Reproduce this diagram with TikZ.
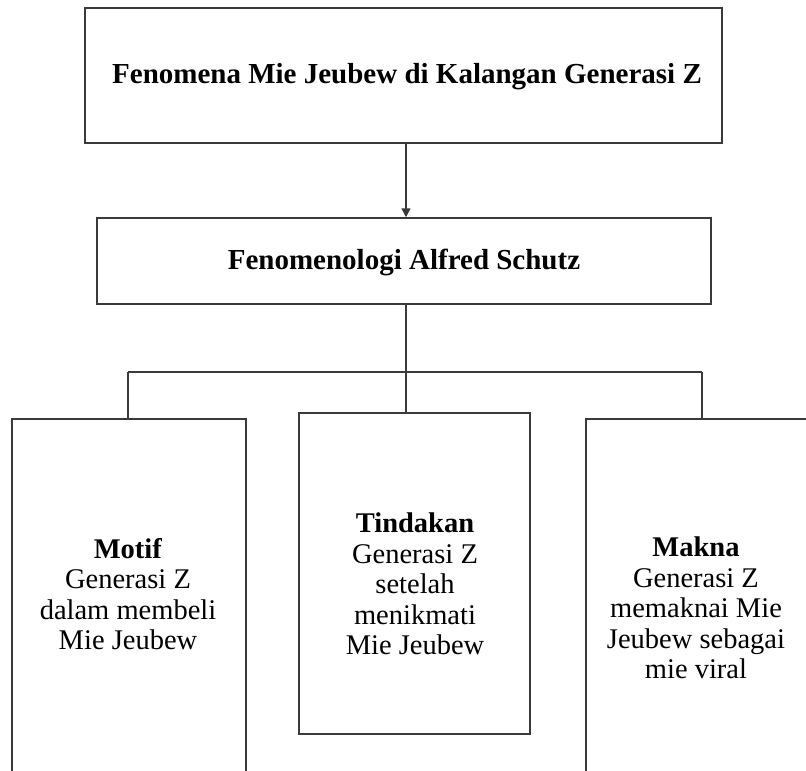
\documentclass[tikz,border=0pt]{standalone}
\usepackage{fontspec}
\setmainfont{Liberation Serif}
\usetikzlibrary{arrows.meta}
\definecolor{linegray}{HTML}{3A3A3A}
\tikzset{
  boxshape/.style={draw=linegray, line width=1.5pt, inner sep=0pt},
  titletext/.style={font=\fontsize{29}{31}\selectfont\bfseries, align=center, inner sep=0pt},
  bodytext/.style={font=\fontsize{28.5}{30.5}\selectfont, align=center, inner sep=0pt},
  conn/.style={draw=linegray, line width=1.5pt},
  arrowconn/.style={conn, -{Triangle[length=9pt,width=9pt]}}
}
\begin{document}
\begin{tikzpicture}[x=1pt,y=-1pt]
\useasboundingbox (0,0) rectangle (806,771);
% top box
\node[boxshape, minimum width=637pt, minimum height=135pt] (top) at (403.5,75.5) {};
\node[titletext] (toptext) at (407,77) {Fenomena Mie Jeubew di Kalangan Generasi Z};
% second box
\node[boxshape, minimum width=614pt, minimum height=86pt] (mid) at (404,261) {};
\node[titletext] (midtext) at (404,262) {Fenomenologi Alfred Schutz};
% lower boxes
\node[boxshape, minimum width=234pt, minimum height=382pt, anchor=north] (motif) at (129,418) {};
\node[boxshape, minimum width=231pt, minimum height=321pt, anchor=north] (tind) at (414.5,412) {};
\node[boxshape, minimum width=222pt, minimum height=382pt, anchor=north west] (makna) at (585,418) {};
\node[bodytext] (motiftext) at (128,594) {\textbf{Motif}\\Generasi Z\\dalam membeli\\Mie Jeubew};
\node[bodytext] (tindtext) at (415,584) {\textbf{Tindakan}\\Generasi Z\\setelah\\menikmati\\Mie Jeubew};
\node[bodytext] (maknatext) at (696,608) {\textbf{Makna}\\Generasi Z\\memaknai Mie\\Jeubew sebagai\\mie viral};
% connectors
\coordinate (junc) at (406,372);
\coordinate (barL) at (128,372);
\coordinate (barR) at (702,372);
\draw[arrowconn] (top.south -| junc) -- (mid.north -| junc);
\draw[conn] (mid.south -| junc) -- (junc);
\draw[conn] (barL) -- (barR);
\draw[conn] (barL) -- (barL |- motif.north);
\draw[conn] (junc) -- (junc |- tind.north);
\draw[conn] (barR) -- (barR |- makna.north);
\end{tikzpicture}
\end{document}
